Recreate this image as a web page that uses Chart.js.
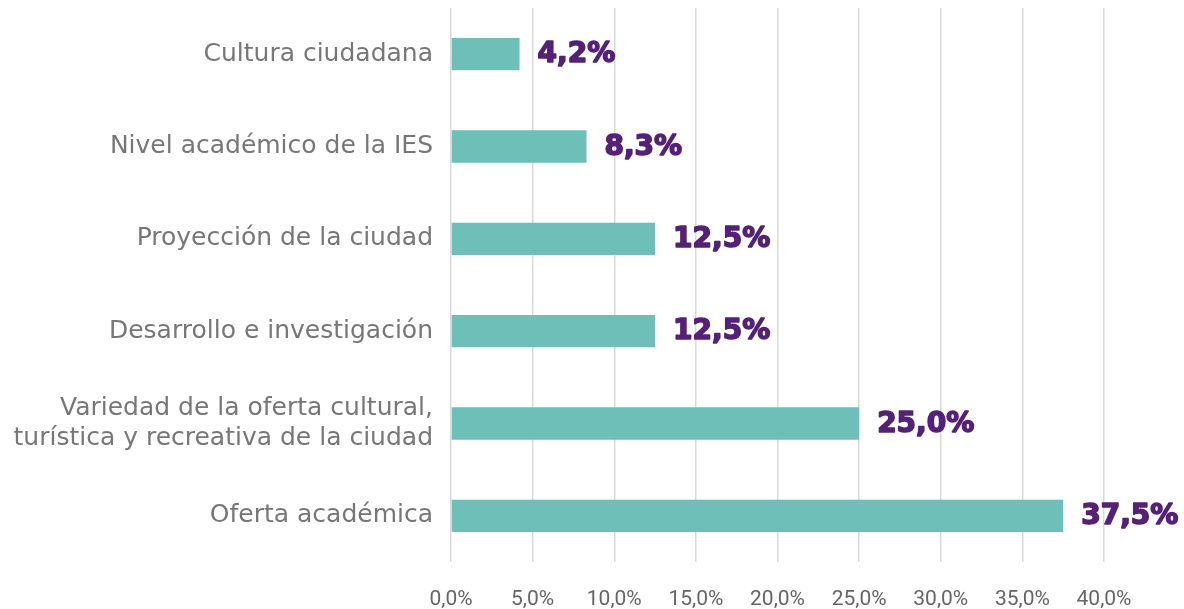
<!DOCTYPE html>
<html>
<head>
<meta charset="utf-8">
<script src="https://cdn.jsdelivr.net/npm/chart.js@4.4.1/dist/chart.umd.min.js"></script>
<style>
  html, body { margin: 0; padding: 0; background: #ffffff; }
  #wrap { width: 1184px; height: 609px; position: relative; }
</style>
</head>
<body>
<div id="wrap"><canvas id="chart"></canvas></div>
<script>
// Categories, top to bottom
const categories = [
  "Cultura ciudadana",
  "Nivel académico de la IES",
  "Proyección de la ciudad",
  "Desarrollo e investigación",
  ["Variedad de la oferta cultural,", "turística y recreativa de la ciudad"],
  "Oferta académica"
];
// Percent values
const values = [4.2, 8.3, 12.5, 12.5, 25.0, 37.5];
// X axis ticks
const xTicks = [0, 5, 10, 15, 20, 25, 30, 35, 40];

// Spanish style number: 12.5 -> "12,5%"
function pct(v) {
  return v.toFixed(1).replace(".", ",") + "%";
}

// Draws the purple value next to each bar
const valueLabels = {
  id: "valueLabels",
  afterDatasetsDraw(chart) {
    const ctx = chart.ctx;
    const meta = chart.getDatasetMeta(0);
    ctx.save();
    ctx.font = "bold 28px 'DejaVu Sans'";
    ctx.fillStyle = "#552177";
    ctx.strokeStyle = "#552177";
    ctx.lineWidth = 1.6;
    ctx.lineJoin = "round";
    ctx.textAlign = "left";
    ctx.textBaseline = "middle";
    meta.data.forEach((bar, i) => {
      const tx = bar.x + 18, ty = bar.y + 1;
      ctx.strokeText(pct(values[i]), tx, ty);
      ctx.fillText(pct(values[i]), tx, ty);
    });
    ctx.restore();
  }
};

const ctx = document.getElementById("chart").getContext("2d");
new Chart(ctx, {
  type: "bar",
  data: {
    labels: categories,
    datasets: [{
      data: values,
      backgroundColor: "#6dbfb8",
      borderWidth: 0,
      categoryPercentage: 1,
      barPercentage: 0.35
    }]
  },
  options: {
    indexAxis: "y",
    responsive: true,
    maintainAspectRatio: false,
    animation: false,
    layout: { padding: { left: 0, right: 80, top: 8, bottom: 0 } },
    plugins: {
      legend: { display: false },
      tooltip: { enabled: false }
    },
    scales: {
      x: {
        min: 0,
        max: 40,
        afterBuildTicks: scale => {
          scale.ticks = xTicks.map(v => ({ value: v }));
        },
        afterFit: scale => {
          scale.height = 47;
          scale.paddingLeft = 0;
          scale.paddingRight = 0;
        },
        grid: { color: "#d9d9d9", lineWidth: 1.5, drawTicks: false },
        border: { display: false },
        ticks: {
          padding: 25,
          color: "#666666",
          font: { family: "Roboto", size: 21 },
          callback: v => pct(v)
        }
      },
      y: {
        afterFit: scale => {
          scale.width = 451;
          scale.paddingTop = 0;
          scale.paddingBottom = 0;
        },
        grid: { display: false, drawTicks: false },
        border: { display: false },
        ticks: {
          padding: 18,
          color: "#777777",
          font: { family: "'DejaVu Sans'", size: 25, lineHeight: 1.2 }
        }
      }
    }
  },
  plugins: [valueLabels]
});
</script>
</body>
</html>
